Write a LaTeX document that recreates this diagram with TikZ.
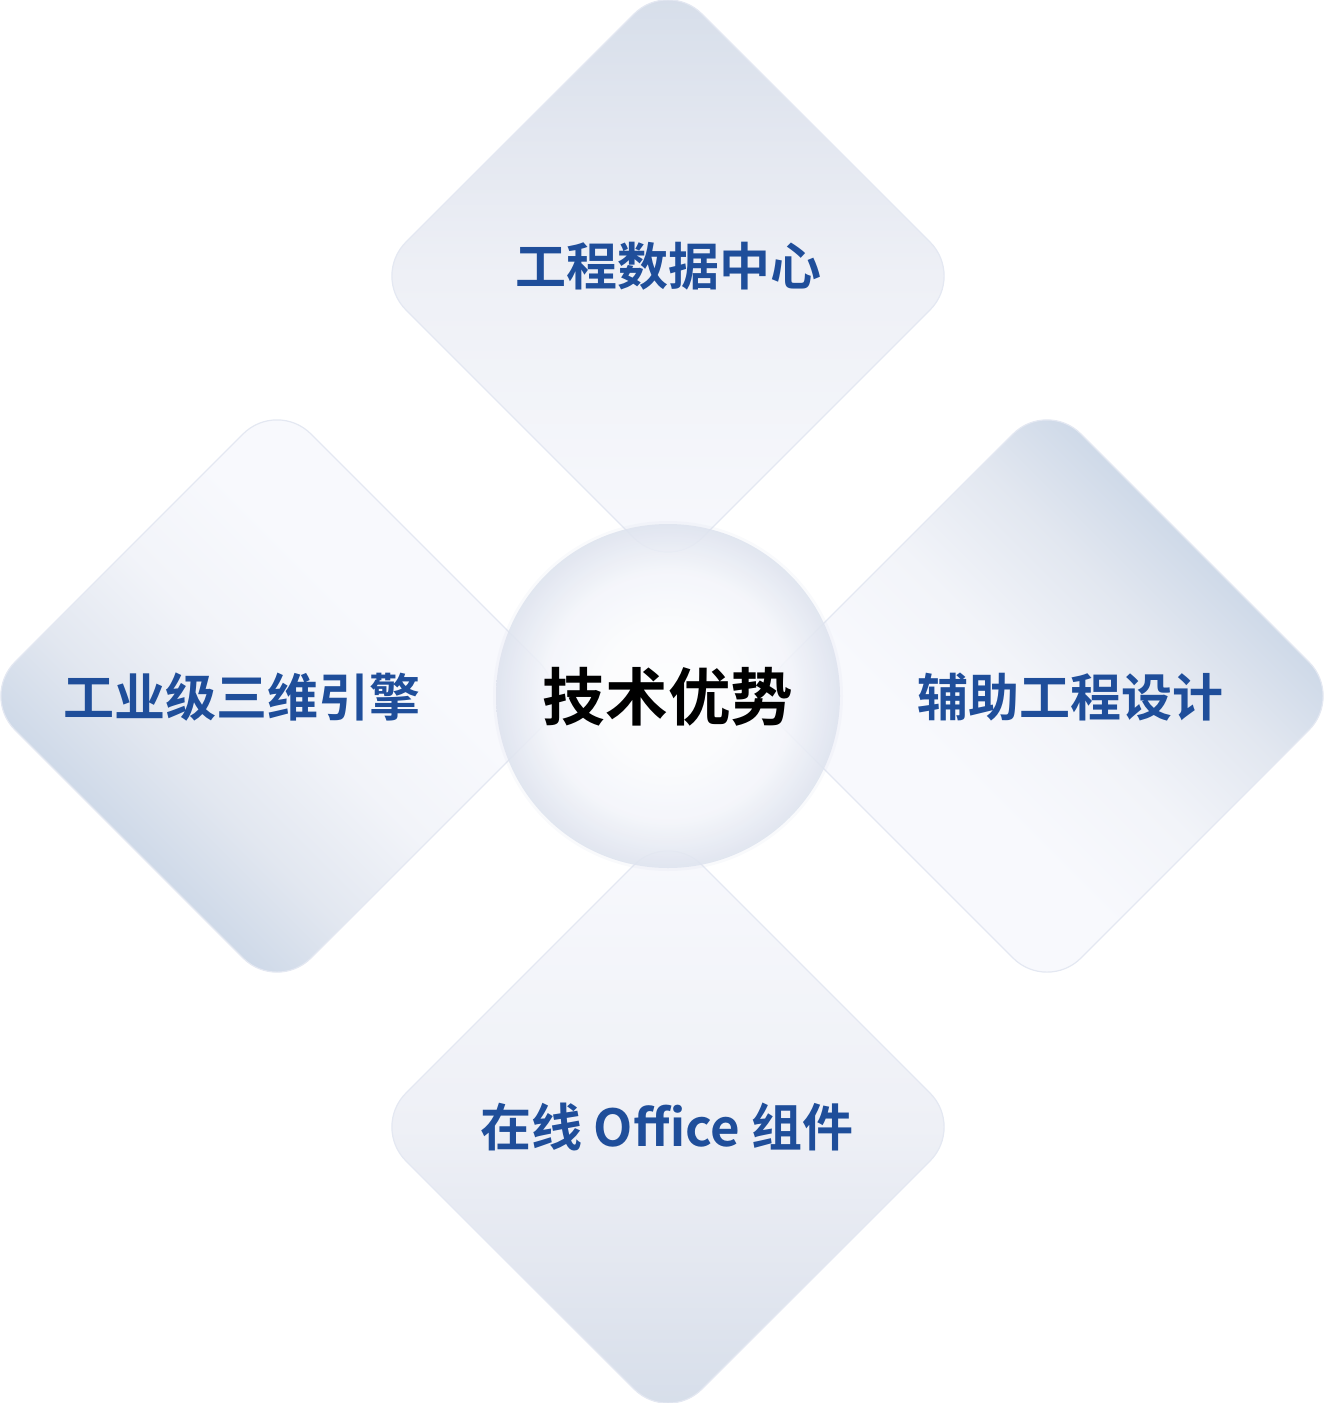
\documentclass[tikz,border=0pt]{standalone}
\usepackage{fontspec}
\newfontfamily\cjkb{Noto Sans CJK SC Bold}
\definecolor{txtblue}{HTML}{1F4E9A}
\definecolor{edgec}{HTML}{E4E8F2}
\definecolor{glowc}{HTML}{D0D6E6}
\definecolor{vA}{HTML}{F8F9FD}
\definecolor{vB}{HTML}{EEF0F6}
\definecolor{vC}{HTML}{E3E7F0}
\definecolor{vD}{HTML}{D5DDE9}
\definecolor{dA}{HTML}{F8F9FD}
\definecolor{dB}{HTML}{F2F4F9}
\definecolor{dC}{HTML}{E2E7F0}
\definecolor{dD}{HTML}{CED9E8}
\pgfdeclareverticalshading{vfade}{100bp}{color(0bp)=(vA); color(25bp)=(vA); color(50bp)=(vB); color(62bp)=(vC); color(75bp)=(vD); color(100bp)=(vD)}
\pgfdeclareverticalshading{dfade}{100bp}{color(0bp)=(dA); color(40bp)=(dA); color(50bp)=(dB); color(60bp)=(dC); color(68bp)=(dD); color(100bp)=(dD)}
\pgfdeclareradialshading{ball}{\pgfpoint{0bp}{0bp}}{rgb(0bp)=(1,1,1); rgb(10bp)=(0.985,0.988,0.997); rgb(18bp)=(0.955,0.962,0.982); rgb(25bp)=(0.87,0.89,0.935); rgb(50bp)=(0.87,0.89,0.935)}
\tikzset{
  dia/.style={rounded corners=24pt, draw=edgec, line width=0.6pt},
  lbl/.style={font=\cjkb\fontsize{25.5}{30}\selectfont, text=txtblue, inner sep=0pt},
  ctr/.style={font=\cjkb\fontsize{31.3}{36}\selectfont, text=black, inner sep=0pt}
}
\begin{document}
\begin{tikzpicture}[x=0.5pt,y=-0.5pt]
\useasboundingbox (0,0) rectangle (1323,1403);
% top diamond
\shade[dia, shading=vfade]
  (668-148,276-148) -- (668,276-296) -- (668+296,276) -- (668,276+296) -- (668-296,276) -- cycle;
% bottom diamond
\shade[dia, shading=vfade, shading angle=180]
  (668-148,1127-148) -- (668,1127-296) -- (668+296,1127) -- (668,1127+296) -- (668-296,1127) -- cycle;
% left diamond
\shade[dia, shading=dfade, shading angle=135]
  (277-148,696-148) -- (277,696-296) -- (277+296,696) -- (277,696+296) -- (277-296,696) -- cycle;
% right diamond
\shade[dia, shading=dfade, shading angle=-45]
  (1047-148,696-148) -- (1047,696-296) -- (1047+296,696) -- (1047,696+296) -- (1047-296,696) -- cycle;
% circle glow
\fill[glowc, opacity=0.12] (668,696) circle[radius=175];
% circle
\shade[shading=ball, opacity=0.85] (668,696) circle[radius=172];
% labels
\node[lbl] (top) at (668,266) {工程数据中心};
\node[lbl] (bottom) at (667,1127) {在线 Office 组件};
\node[lbl] (left) at (242,697) {工业级三维引擎};
\node[lbl] (right) at (1070,697) {辅助工程设计};
\node[ctr] (center) at (668,697) {技术优势};
\end{tikzpicture}
\end{document}
